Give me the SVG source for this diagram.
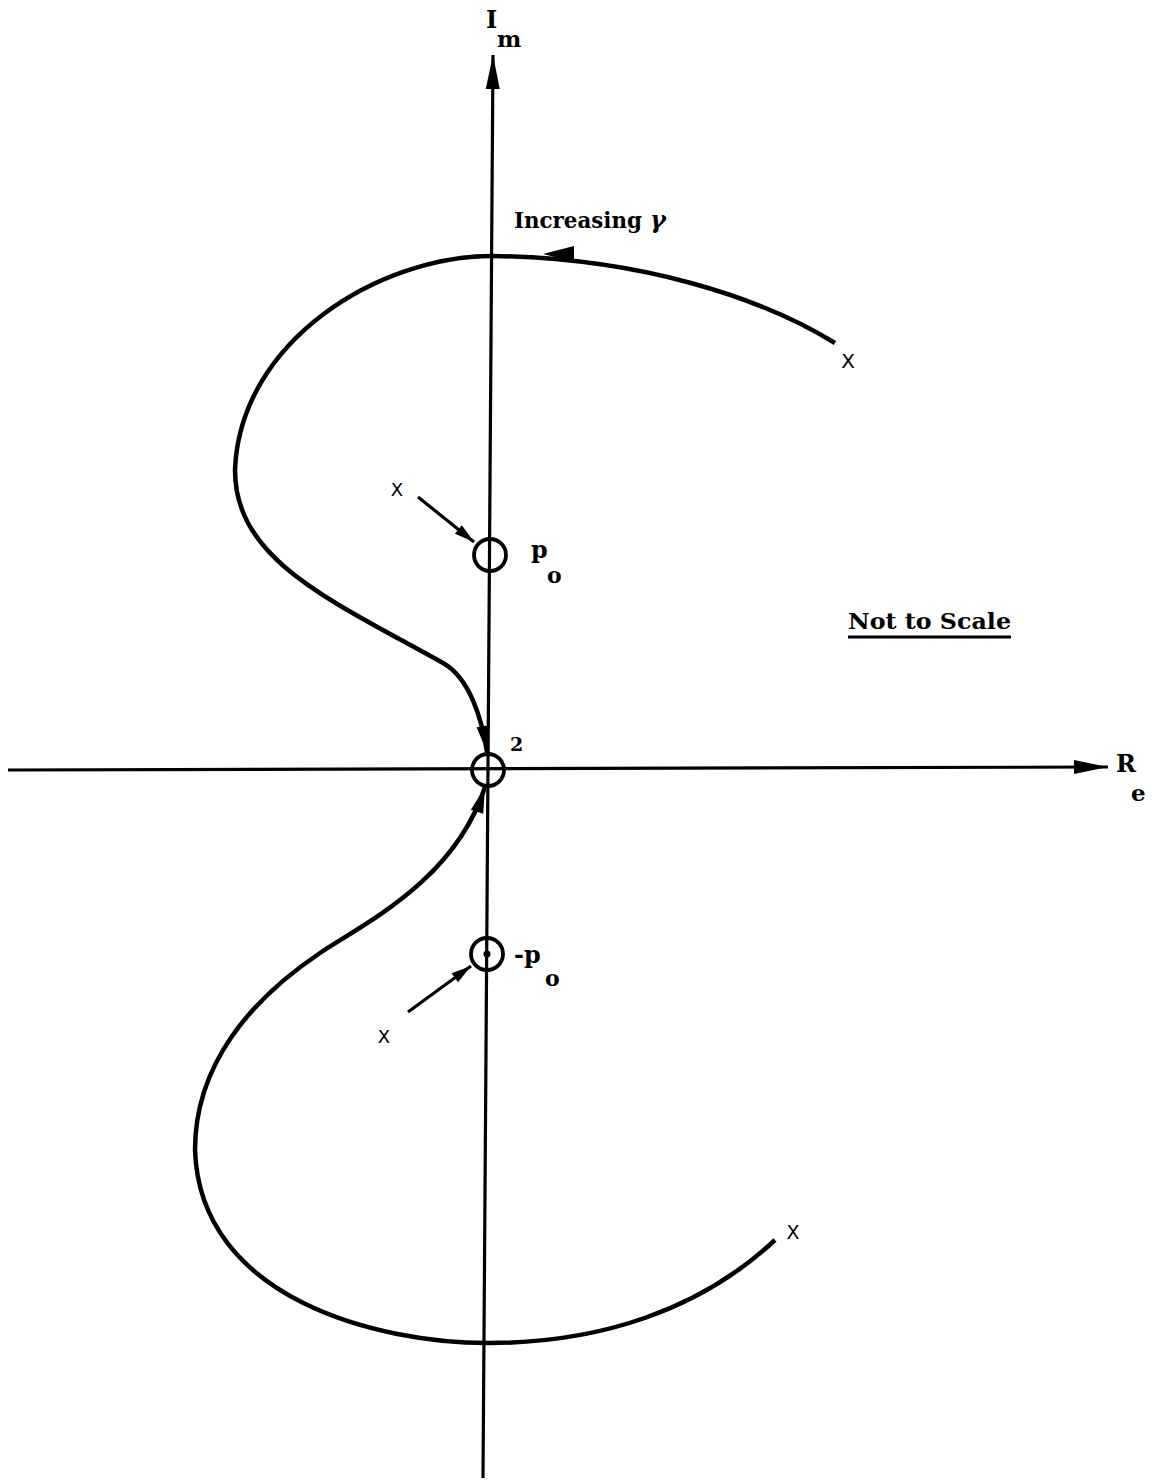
<svg xmlns="http://www.w3.org/2000/svg" width="1164" height="1481" viewBox="0 0 1164 1481">
<style>
.axis{stroke:#000;stroke-width:3.2;fill:none}
.curve{stroke:#000;stroke-width:4.5;fill:none}
.ring{stroke:#000;stroke-width:3.8;fill:none}
.lbl{font-family:"DejaVu Serif","Liberation Serif",serif;font-weight:bold;fill:#000}
.x{font-family:"DejaVu Sans","Liberation Sans",sans-serif;fill:#000;text-anchor:middle}
</style>
<defs>
<marker id="axh" markerUnits="userSpaceOnUse" markerWidth="40" markerHeight="16" viewBox="-36 -8 40 16" refX="0" refY="0" orient="auto" overflow="visible"><path d="M0,0 L-34,-7 L-34,7 z" fill="#000"/></marker>
<marker id="ah" markerUnits="userSpaceOnUse" markerWidth="30" markerHeight="16" viewBox="-28 -8 30 16" refX="0" refY="0" orient="auto" overflow="visible"><path d="M0,0 L-26,-6.5 L-26,6.5 z" fill="#000"/></marker>
<marker id="sh" markerUnits="userSpaceOnUse" markerWidth="24" markerHeight="12" viewBox="-22 -6 24 12" refX="0" refY="0" orient="auto" overflow="visible"><path d="M0,0 L-20,-5.5 L-20,5.5 z" fill="#000"/></marker>
</defs>

<g id="connectors">
<line id="im-axis" class="axis" x1="483" y1="1478" x2="493" y2="55" marker-end="url(#axh)"/>
<line id="re-axis" class="axis" x1="8" y1="770" x2="1108" y2="767" marker-end="url(#axh)"/>
<path id="upper-locus" class="curve" d="M835,343 C760,297 640,258 492,256 C380,256 240,340 235,470 C235,560 330,600 443,663 C470,678 482,720 487,752" marker-end="url(#ah)"/>
<polygon id="upper-mid-arrow" points="543,254 574,246 574,262" fill="#000"/>
<path id="lower-locus" class="curve" d="M775,1240 C700,1310 600,1343 488,1343 C380,1343 200,1300 195,1150 C195,1065 250,1000 320,953 C365,923 455,880 485,787" marker-end="url(#ah)"/>
<line id="po-arrow" class="axis" x1="418" y1="497" x2="474" y2="542" marker-end="url(#sh)"/>
<line id="npo-arrow" class="axis" x1="408" y1="1012" x2="471" y2="966" marker-end="url(#sh)"/>
</g>

<g id="node-po">
<circle class="ring" cx="490" cy="555" r="16"/>
<text class="lbl" x="531" y="558" font-size="24">p</text>
<text class="lbl" x="547" y="583" font-size="22">o</text>
</g>

<g id="node-origin">
<circle class="ring" cx="488" cy="770" r="16"/>
<text class="lbl" x="510" y="751" font-size="19">2</text>
</g>

<g id="node-npo">
<circle class="ring" cx="487" cy="954" r="16"/>
<circle cx="487" cy="954" r="3.5" fill="#000"/>
<text class="lbl" x="514" y="963" font-size="24">-p</text>
<text class="lbl" x="545" y="986" font-size="22">o</text>
</g>

<g id="labels">
<text class="lbl" x="486" y="28" font-size="24">I</text>
<text class="lbl" x="497" y="47" font-size="23">m</text>
<text class="lbl" x="1116" y="772" font-size="24">R</text>
<text class="lbl" x="1131" y="801" font-size="23">e</text>
<text class="lbl" x="514" y="228" font-size="22" textLength="128" lengthAdjust="spacingAndGlyphs">Increasing</text>
<text class="lbl" x="650" y="228" font-size="24" font-style="italic">γ</text>
<text class="lbl" x="848" y="629" font-size="23" textLength="163" lengthAdjust="spacingAndGlyphs">Not to Scale</text>
<line x1="848" y1="637" x2="1011" y2="637" stroke="#000" stroke-width="2.8"/>
<text class="x" x="848" y="368" font-size="20">X</text>
<text class="x" x="397" y="496" font-size="18">X</text>
<text class="x" x="384" y="1043" font-size="18">X</text>
<text class="x" x="793" y="1239" font-size="19">X</text>
</g>
</svg>
